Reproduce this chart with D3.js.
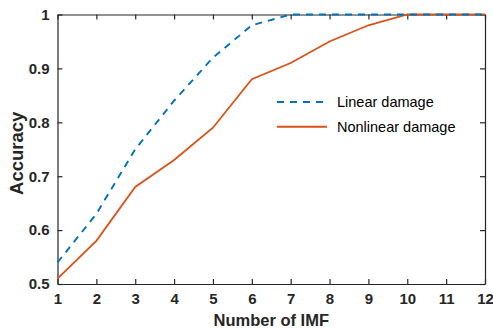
<!DOCTYPE html>
<html>
<head>
<meta charset="utf-8">
<script src="https://cdn.jsdelivr.net/npm/d3@7"></script>
<style>
  body { margin: 0; background: #fff; }
</style>
</head>
<body>
<div id="chart"></div>
<script>
const imfCounts = [1, 2, 3, 4, 5, 6, 7, 8, 9, 10, 11, 12];
const linearDamage = [0.54, 0.63, 0.75, 0.84, 0.92, 0.98, 1, 1, 1, 1, 1, 1];
const nonlinearDamage = [0.51, 0.58, 0.68, 0.73, 0.79, 0.88, 0.91, 0.95, 0.98, 1, 1, 1];
const yTicks = [0.5, 0.6, 0.7, 0.8, 0.9, 1];

const margin = { top: 14.5, right: 8, bottom: 44, left: 57.5 },
    width = 493 - margin.left - margin.right,
    height = 328 - margin.top - margin.bottom;

const svg = d3.select("#chart")
    .append("svg")
    .attr("width", 493)
    .attr("height", 328)
    .append("g")
    .attr("transform", `translate(${margin.left}, ${margin.top})`);

const x = d3.scaleLinear().domain([1, 12]).range([0, width]);
const y = d3.scaleLinear().domain([0.5, 1]).range([height, 0]);

const fontBold = "'Liberation Sans', Arial, sans-serif";

// axes with inward ticks (box style)
const styleAxis = g => {
    g.select(".domain").attr("stroke", "#262626").attr("stroke-width", 1.2);
    g.selectAll(".tick line").attr("stroke", "#262626").attr("stroke-width", 1.2);
    g.selectAll("text")
        .attr("fill", "#262626")
        .style("font-family", fontBold)
        .style("font-weight", "bold")
        .style("font-size", "15px");
};

svg.append("g")
    .attr("transform", `translate(0, ${height})`)
    .call(d3.axisBottom(x).tickValues(imfCounts).tickFormat(d3.format("d")).tickSizeInner(-5).tickSizeOuter(0).tickPadding(9))
    .call(styleAxis);

svg.append("g")
    .call(d3.axisLeft(y).tickValues(yTicks).tickFormat(d => d === 1 ? "1" : d3.format(".1f")(d)).tickSizeInner(-5).tickSizeOuter(0).tickPadding(8))
    .call(styleAxis);

svg.append("g")
    .call(d3.axisTop(x).tickValues(imfCounts).tickFormat("").tickSizeInner(-5).tickSizeOuter(0))
    .call(styleAxis);

svg.append("g")
    .attr("transform", `translate(${width}, 0)`)
    .call(d3.axisRight(y).tickValues(yTicks).tickFormat("").tickSizeInner(-5).tickSizeOuter(0))
    .call(styleAxis);

// lines
const line = d3.line()
    .x((d, i) => x(imfCounts[i]))
    .y(d => y(d));

svg.append("path")
    .datum(nonlinearDamage)
    .attr("fill", "none")
    .attr("stroke", "#D95319")
    .attr("stroke-width", 1.8)
    .attr("d", line);

svg.append("path")
    .datum(linearDamage)
    .attr("fill", "none")
    .attr("stroke", "#0072BD")
    .attr("stroke-width", 1.9)
    .attr("stroke-dasharray", "7,6")
    .attr("d", line);

// legend
const legend = svg.append("g")
    .attr("transform", `translate(${277 - margin.left}, ${102 - margin.top})`);

const legendItems = [
    { label: "Linear damage", color: "#0072BD", dash: "7,6" },
    { label: "Nonlinear damage", color: "#D95319", dash: null }
];

legendItems.forEach((item, i) => {
    const row = legend.append("g").attr("transform", `translate(0, ${i * 24.7})`);
    row.append("line")
        .attr("x1", 0).attr("x2", 50)
        .attr("y1", 0).attr("y2", 0)
        .attr("stroke", item.color)
        .attr("stroke-width", 1.9)
        .attr("stroke-dasharray", item.dash);
    row.append("text")
        .attr("x", 60)
        .attr("y", 0)
        .attr("dy", "0.35em")
        .attr("fill", "#000")
        .style("font-family", "'Liberation Sans', Arial, sans-serif")
        .style("font-size", "14.5px")
        .text(item.label);
});

// axis titles
svg.append("text")
    .attr("x", width / 2)
    .attr("y", height + 42)
    .attr("text-anchor", "middle")
    .attr("fill", "#262626")
    .style("font-family", fontBold)
    .style("font-weight", "bold")
    .style("font-size", "16.5px")
    .text("Number of IMF");

svg.append("text")
    .attr("transform", `translate(${-35}, ${height / 2 + 4}) rotate(-90)`)
    .attr("text-anchor", "middle")
    .attr("fill", "#262626")
    .style("font-family", fontBold)
    .style("font-weight", "bold")
    .style("font-size", "18.5px")
    .text("Accuracy");
</script>
</body>
</html>
